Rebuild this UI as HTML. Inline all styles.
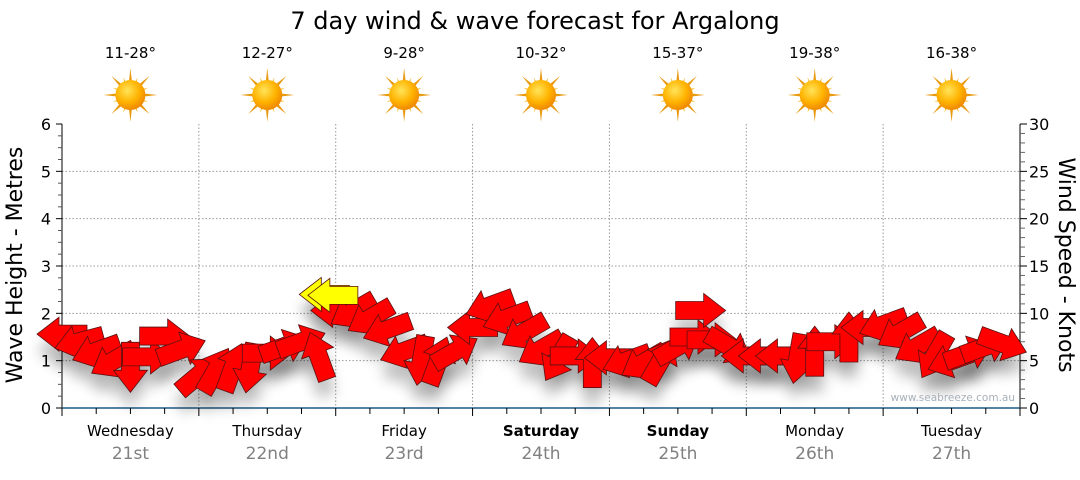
<!DOCTYPE html>
<html><head><meta charset="utf-8"><style>
body{margin:0;background:#fff;width:1080px;height:475px;overflow:hidden;font-family:"Liberation Sans","DejaVu Sans",sans-serif}
svg text{font-family:"DejaVu Sans","Liberation Sans",sans-serif}
</style></head><body>
<svg id="chart" width="1080" height="475" xmlns="http://www.w3.org/2000/svg">
<defs>
<filter id="sh" x="-50%" y="-50%" width="200%" height="250%"><feGaussianBlur stdDeviation="7"/></filter>
<radialGradient id="sun" cx="40%" cy="35%" r="65%"><stop offset="0" stop-color="#ffe45a"/><stop offset="0.6" stop-color="#ffb300"/><stop offset="1" stop-color="#f08a00"/></radialGradient>
</defs>
<text x="535" y="29" font-size="24" text-anchor="middle" fill="#000">7 day wind &amp; wave forecast for Argalong</text>
<g id="grid"></g>
<g id="axes"></g>
<g id="shadows"></g>
<g id="arrows"></g>
<g id="days"></g>
<g id="wx"></g>
<text transform="translate(22,265) rotate(-90)" font-size="22" text-anchor="middle">Wave Height - Metres</text>
<text transform="translate(1059,265) rotate(90)" font-size="22" text-anchor="middle">Wind Speed - Knots</text>
<text x="1015" y="401" font-size="10.5" fill="#a8b0b8" text-anchor="end">www.seabreeze.com.au</text>
</svg>
<script>
const days=["Wednesday","Thursday","Friday","Saturday","Sunday","Monday","Tuesday"];
const dates=["21st","22nd","23rd","24th","25th","26th","27th"];
const boldDays=[false,false,false,true,true,false,false];
const temps=["11-28°","12-27°","9-28°","10-32°","15-37°","19-38°","16-38°"];
const leftTicks=[0,1,2,3,4,5,6];
const rightTicks=[0,5,10,15,20,25,30];
const hours=[0,3,6,9,12,15,18,21,24,27,30,33,36,39,42,45,48,51,54,57,60,63,66,69,72,75,78,81,84,87,90,93,96,99,102,105,108,111,114,117,120,123,126,129,132,135,138,141,144,147,150,153,156,159,162,165];
const windKnots=[7.8,7.0,6.0,5.0,4.3,5.4,7.6,6.2,3.5,4.0,4.3,4.2,5.8,6.5,7.0,5.5,10.3,10.2,9.5,8.3,6.0,5.0,5.0,6.0,8.5,10.8,9.5,8.0,6.2,5.2,5.5,4.8,5.3,5.0,4.8,5.0,6.5,7.5,7.2,6.5,5.5,5.5,5.5,5.2,6.0,7.0,7.5,8.5,8.8,8.0,6.5,5.5,5.0,5.8,6.5,6.8];
const windDir=[180,165,160,150,90,0,0,-20,-40,-60,-70,100,0,-20,-20,-110,180,150,150,160,160,100,-70,-30,180,160,160,150,150,120,0,-90,180,160,150,-60,-30,0,0,30,180,180,180,100,-90,0,-90,180,160,150,150,120,160,-20,-20,20];
const swellHours=[46,47.5];
const swellKnots=[12.0,11.9];
const swellDir=[180,180];
const extraHours=[112];
const extraKnots=[10.3];
const extraDir=[0];

const X0=62,X1=1020,Y0=408,Y1=124,NS="http://www.w3.org/2000/svg";
const xH=h=>X0+(X1-X0)*h/168;
const yM=m=>Y0-(Y0-Y1)*m/6;
const yK=k=>Y0-(Y0-Y1)*k/30;
function el(t,a,p){const e=document.createElementNS(NS,t);for(const k in a)e.setAttribute(k,a[k]);p.appendChild(e);return e;}
const grid=document.getElementById('grid'),axes=document.getElementById('axes');
leftTicks.forEach(v=>{if(v>0&&v<6){const l=el('line',{x1:X0,x2:X1,y1:yM(v),y2:yM(v),stroke:'#999','stroke-dasharray':'1.5,2'},grid);
}});
for(let d=1;d<7;d++){const l=el('line',{x1:xH(d*24),x2:xH(d*24),y1:Y1,y2:Y0,stroke:'#999','stroke-dasharray':'1.5,2'},grid);
}
el('line',{x1:X0,x2:X0,y1:Y1,y2:Y0,stroke:'#000'},axes);
el('line',{x1:X1,x2:X1,y1:Y1,y2:Y0,stroke:'#000'},axes);
el('line',{x1:X0,x2:X1,y1:Y0,y2:Y0,stroke:'#1f5a85','stroke-width':1.5},axes);
for(let i=0;i<=24;i++){const v=i/4,y=yM(v);el('line',{x1:X0-(i%4?4:6),x2:X0,y1:y,y2:y,stroke:i%4?'#555':'#000'},axes);}
for(let k=0;k<=30;k++){const y=yK(k);el('line',{x1:X1,x2:X1+(k%5?5:7),y1:y,y2:y,stroke:k%5?'#666':'#000'},axes);}
leftTicks.forEach(v=>{const t=el('text',{x:51,y:yM(v)+6,'font-size':16,'text-anchor':'end'},axes);t.textContent=v;
});
rightTicks.forEach(v=>{const t=el('text',{x:1029,y:yK(v)+6,'font-size':16},axes);t.textContent=v;
});
for(let h=0;h<=168;h+=6){const x=xH(h);el('line',{x1:x,x2:x,y1:Y0,y2:Y0+(h%24?6:8),stroke:'#000'},axes);}
const dg=document.getElementById('days'),wx=document.getElementById('wx');
days.forEach((d,i)=>{const cx=xH(i*24+12);
const t=el('text',{x:cx,y:436,'font-size':15,'text-anchor':'middle','font-weight':boldDays[i]?'bold':'normal'},dg);t.textContent=d;

const t2=el('text',{x:cx,y:459,'font-size':17,'text-anchor':'middle',fill:'#808080'},dg);t2.textContent=dates[i];

const t3=el('text',{x:cx,y:58,'font-size':15,'text-anchor':'middle'},wx);t3.textContent=temps[i];

const g=el('g',{transform:`translate(${cx},95)`},wx);

for(let r=0;r<16;r++){const a=r*22.5,L=r%2?19:27;el('polygon',{points:`-3,0 0,-${L} 3,0`,fill:r%2?'#f6b820':'#e89a10',transform:`rotate(${a})`},g);}
el('circle',{r:15,fill:'url(#sun)'},g);
});
const sh=document.getElementById('shadows'),ag=document.getElementById('arrows');
function arrow(x,y,ang,col,name){
const p="-25,-9 3,-9 3,-17 25,0 3,17 3,9 -25,9";
const s=el('polygon',{points:p,fill:'#000',opacity:0.25,filter:'url(#sh)',transform:`translate(${x},${y+16}) rotate(${ang})`},sh);

const a=el('polygon',{points:p,fill:col,stroke:'#5a1010','stroke-width':0.8,transform:`translate(${x},${y}) rotate(${ang})`},ag);
}
hours.forEach((h,i)=>arrow(xH(h),yK(windKnots[i]),windDir[i],'#ff0000','wind-arrow'));
extraHours.forEach((h,i)=>arrow(xH(h),yK(extraKnots[i]),extraDir[i],'#ff0000','wind-arrow'));
swellHours.forEach((h,i)=>arrow(xH(h),yK(swellKnots[i]),swellDir[i],'#ffff00','swell-arrow'));
</script>
</body></html>
